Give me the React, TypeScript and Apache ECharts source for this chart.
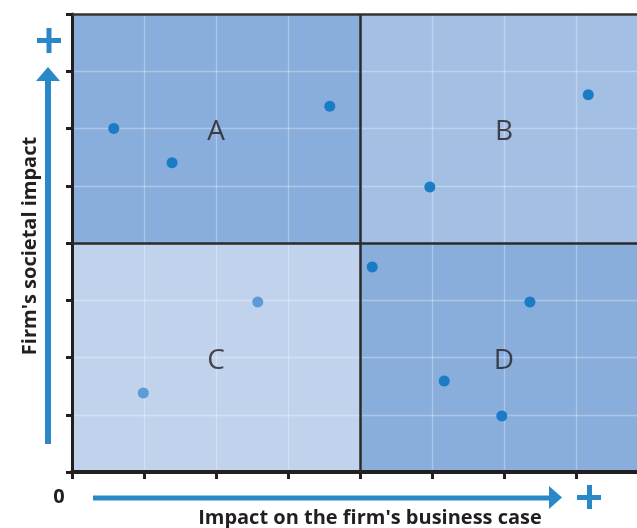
import React, { useEffect, useRef } from "react";
import * as echarts from "echarts";

const quadrantNames = ["A", "B", "C", "D"];
const quadrantCenters = [
  [2, 6],
  [6, 6],
  [2, 2],
  [6, 2],
];
const quadrantBounds = [
  [[0, 4], [4, 8]],
  [[4, 4], [8, 8]],
  [[0, 0], [4, 4]],
  [[4, 0], [8, 4]],
];
const quadrantColors = ["#8aaedc", "#a3c0e4", "#c1d3ec", "#8aaedc"];

const pointsA = [
  [0.58, 6.0],
  [1.39, 5.4],
  [3.58, 6.39],
];
const pointsB = [
  [4.97, 4.98],
  [7.17, 6.59],
];
const pointsC = [
  [0.99, 1.38],
  [2.58, 2.97],
];
const pointsD = [
  [4.17, 3.58],
  [6.36, 2.97],
  [5.17, 1.59],
  [5.97, 0.98],
];
const pointGroups = [pointsA, pointsB, pointsC, pointsD];
const pointColors = ["#1a7cc4", "#1a7cc4", "#5d9bd6", "#1a7cc4"];

const xTitle = "Impact on the firm's business case";
const yTitle = "Firm's societal impact";
const originLabel = "0";

const axisMin = 0;
const axisMax = 8;
const axisInterval = 1;

const dark = "#231f20";
const arrowBlue = "#2a87c8";
const titleFont = "Open Sans";

export default function App() {
  const ref = useRef<HTMLDivElement>(null);

  useEffect(() => {
    if (!ref.current) return;
    const chart = echarts.init(ref.current, undefined, { renderer: "svg" });

    const areaSeries = {
      type: "scatter",
      z: 0,
      silent: true,
      data: [],
      markArea: {
        silent: true,
        z: 0,
        data: quadrantBounds.map((b, i) => [
          { xAxis: b[0][0], yAxis: b[0][1], itemStyle: { color: quadrantColors[i], opacity: 1 } },
          { xAxis: b[1][0], yAxis: b[1][1] },
        ]),
      },
    };

    const lineSeries = {
      type: "scatter",
      z: 6,
      silent: true,
      data: [],
      markLine: {
        silent: true,
        z: 6,
        symbol: "none",
        label: { show: false },
        lineStyle: { color: "#2a2a2a", width: 2.5, type: "solid" },
        data: [
          { xAxis: (axisMin + axisMax) / 2 },
          { yAxis: (axisMin + axisMax) / 2 },
          { yAxis: axisMax, lineStyle: { width: 2.5, color: "#333" } },
        ],
      },
    };

    const pointSeries = pointGroups.map((pts, i) => ({
      type: "scatter",
      z: 7,
      symbolSize: 11,
      itemStyle: { color: pointColors[i], opacity: 1 },
      data: pts,
    }));

    const labelSeries = {
      type: "scatter",
      z: 7,
      symbolSize: 0,
      silent: true,
      data: quadrantCenters.map((c, i) => ({ value: c, name: quadrantNames[i] })),
      label: {
        show: true,
        position: "inside",
        formatter: (p: any) => p.name,
        fontSize: 28,
        fontFamily: "Open Sans",
        color: dark,
      },
    };

    const axisCommon = {
      type: "value",
      min: axisMin,
      max: axisMax,
      interval: axisInterval,
      z: 4,
      axisLabel: { show: false },
      splitLine: { show: true, lineStyle: { color: "rgba(255,255,255,0.3)", width: 1.3 } },
    };

    chart.setOption({
      animation: false,
      grid: { left: 72, top: 14, width: 576, height: 458 },
      xAxis: {
        ...axisCommon,
        axisLine: { show: true, onZero: false, lineStyle: { color: dark, width: 4 } },
        axisTick: { show: true, length: 7, lineStyle: { color: dark, width: 3 } },
      },
      yAxis: {
        ...axisCommon,
        axisLine: { show: true, onZero: false, lineStyle: { color: dark, width: 3 } },
        axisTick: { show: true, length: 6, lineStyle: { color: dark, width: 3 } },
      },
      series: [areaSeries, lineSeries, ...pointSeries, labelSeries],
      graphic: [
        { type: "rect", shape: { x: 45, y: 80, width: 6, height: 364 }, style: { fill: arrowBlue } },
        { type: "polygon", shape: { points: [[48, 67], [36, 81], [60, 81]] }, style: { fill: arrowBlue } },
        { type: "rect", shape: { x: 37, y: 38, width: 24, height: 5 }, style: { fill: arrowBlue } },
        { type: "rect", shape: { x: 46.5, y: 28, width: 5, height: 25 }, style: { fill: arrowBlue } },
        { type: "rect", shape: { x: 93, y: 495.5, width: 457, height: 5 }, style: { fill: arrowBlue } },
        { type: "polygon", shape: { points: [[549, 486], [549, 509], [562, 497.5]] }, style: { fill: arrowBlue } },
        { type: "rect", shape: { x: 577, y: 495, width: 24, height: 5 }, style: { fill: arrowBlue } },
        { type: "rect", shape: { x: 587, y: 485, width: 5, height: 24 }, style: { fill: arrowBlue } },
        {
          type: "text",
          x: 59,
          y: 495,
          style: {
            text: originLabel,
            fontSize: 20,
            fontWeight: "bold",
            fontFamily: titleFont,
            fill: dark,
            align: "center",
            verticalAlign: "middle",
          },
        },
        {
          type: "text",
          x: 370,
          y: 516,
          style: {
            text: xTitle,
            fontSize: 20,
            fontWeight: "bold",
            fontFamily: titleFont,
            fill: dark,
            align: "center",
            verticalAlign: "middle",
          },
        },
        {
          type: "text",
          x: 28,
          y: 246,
          rotation: Math.PI / 2,
          style: {
            text: yTitle,
            fontSize: 20,
            fontWeight: "bold",
            fontFamily: titleFont,
            fill: dark,
            align: "center",
            verticalAlign: "middle",
          },
        },
      ],
    });

    return () => chart.dispose();
  }, []);

  return (
    <div
      ref={ref}
      style={{ position: "fixed", left: 0, top: 0, width: 660, height: 528 }}
    />
  );
}
